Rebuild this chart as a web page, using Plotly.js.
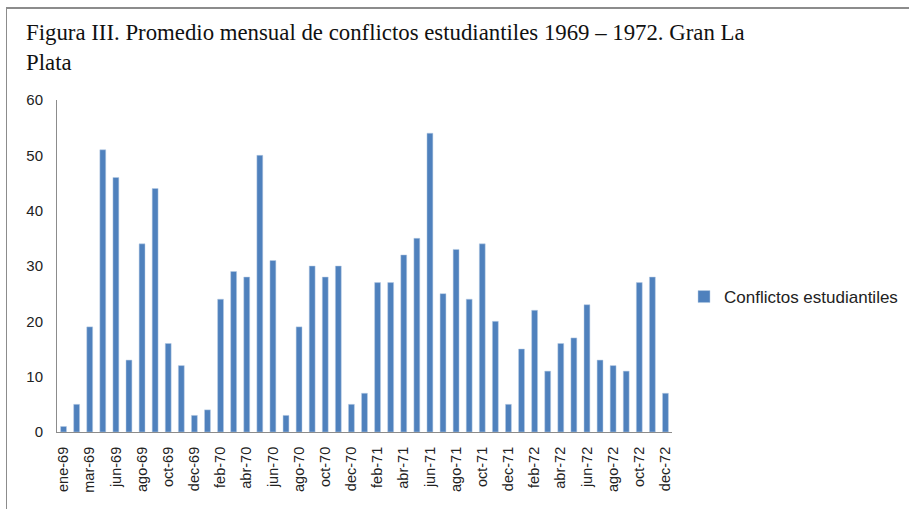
<!DOCTYPE html>
<html>
<head>
<meta charset="utf-8">
<script src="https://cdn.plot.ly/plotly-3.0.1.min.js"></script>
<style>
html,body{margin:0;padding:0;background:#fff;}
#wrap{position:relative;width:909px;height:509px;overflow:hidden;}
#frameTop{position:absolute;left:7px;top:7px;width:902px;height:0;border-top:2px solid #8c8c8c;}
#frameLeft{position:absolute;left:6px;top:7px;width:0;height:502px;border-left:1px solid #8c8c8c;}
#chart{position:absolute;left:0;top:0;width:909px;height:509px;}
</style>
</head>
<body>
<div id="wrap">
<div id="chart"></div>
<div id="frameTop"></div>
<div id="frameLeft"></div>
</div>
<script>
const months = [
  "ene-69","feb-69","mar-69","abr-69","jun-69","jul-69","ago-69","sep-69","oct-69","nov-69","dec-69",
  "ene-70","feb-70","mar-70","abr-70","may-70","jun-70","jul-70","ago-70","sep-70","oct-70","nov-70","dec-70",
  "ene-71","feb-71","mar-71","abr-71","may-71","jun-71","jul-71","ago-71","sep-71","oct-71","nov-71","dec-71",
  "ene-72","feb-72","mar-72","abr-72","may-72","jun-72","jul-72","ago-72","sep-72","oct-72","nov-72","dec-72"
];
const conflictos = [
  1,5,19,51,46,13,34,44,16,12,3,
  4,24,29,28,50,31,3,19,30,28,30,5,
  7,27,27,32,35,54,25,33,24,34,20,5,
  15,22,11,16,17,23,13,12,11,27,28,7
];
const tickLabels = ["ene-69","mar-69","jun-69","ago-69","oct-69","dec-69","feb-70","abr-70","jun-70","ago-70","oct-70","dec-70",
  "feb-71","abr-71","jun-71","ago-71","oct-71","dec-71","feb-72","abr-72","jun-72","ago-72","oct-72","dec-72"];
const seriesName = "Conflictos estudiantiles";
const titleText = "Figura III. Promedio mensual de conflictos estudiantiles 1969 – 1972. Gran La<br>Plata";

const trace = {
  type: "bar",
  x: months,
  y: conflictos,
  name: seriesName,
  marker: {color: "#4F81BD", line: {color: "#B9CDE5", width: 0.5}},
  showlegend: true
};

const layout = {
  width: 909, height: 509,
  paper_bgcolor: "rgba(0,0,0,0)",
  plot_bgcolor: "#fff",
  margin: {l: 57, r: 237, t: 100, b: 77},
  bargap: 0.55,
  font: {family: "Liberation Sans, Arial, sans-serif", size: 13, color: "#222"},
  title: {
    text: titleText,
    font: {family: "Liberation Serif, Times New Roman, serif", size: 22.8, color: "#111"},
    xref: "container", yref: "container",
    x: 26/909, xanchor: "left",
    y: 1 - 40/509, yanchor: "top",
    align: "left"
  },
  xaxis: {
    type: "category",
    tickmode: "array",
    tickvals: tickLabels,
    ticktext: tickLabels,
    tickangle: -90,
    showline: true, linecolor: "#8c8c8c", linewidth: 1,
    ticks: "", showgrid: false, zeroline: false,
    tickfont: {size: 14.5, color: "#222"},
    ticklabelstandoff: 8,
    range: [-0.5, months.length - 0.5]
  },
  yaxis: {
    range: [0, 60],
    dtick: 10,
    showline: true, linecolor: "#8c8c8c", linewidth: 1,
    ticks: "", showgrid: false, zeroline: false,
    tickfont: {size: 15, color: "#222"},
    ticklabelstandoff: 10
  },
  legend: {
    x: 684/909, xref: "container", xanchor: "left",
    y: 1 - 297/509, yref: "container", yanchor: "middle",
    font: {size: 17, color: "#222"},
    itemwidth: 30
  }
};

Plotly.newPlot("chart", [trace], layout, {displayModeBar: false, staticPlot: true});
</script>
</body>
</html>
